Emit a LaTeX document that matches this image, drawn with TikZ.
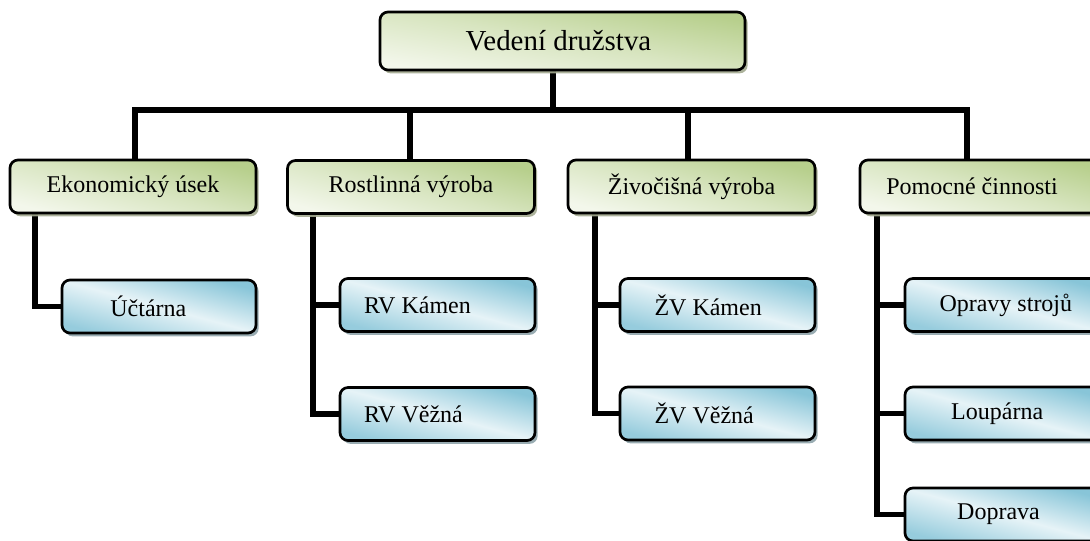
\documentclass[tikz,border=0pt]{standalone}
\usepackage{fontspec}
\setmainfont{Liberation Serif}
\usetikzlibrary{shadows,backgrounds}
\definecolor{gdark}{HTML}{B7CF8C}
\definecolor{glight}{HTML}{F3F7EB}
\definecolor{bdark}{HTML}{88C5D8}
\definecolor{blight}{HTML}{E6F3F7}
\definecolor{gshadow}{HTML}{A3AA90}
\definecolor{bshadow}{HTML}{8EA3AA}
\tikzset{
  boxbase/.style={draw=black, line width=2pt, rounded corners=6pt, inner sep=0pt,
    font=\fontsize{18}{22}\selectfont},
  gbox/.style={boxbase, top color=gdark, bottom color=glight, middle color=gdark!45!glight, shading angle=-15,
    drop shadow={shadow xshift=2pt, shadow yshift=-2.5pt, fill=gshadow, opacity=0.9},
    minimum width=247*0.75pt, minimum height=53*0.75pt},
  bbox/.style={boxbase, top color=bdark, bottom color=bdark!88!white, middle color=blight, shading angle=-15,
    drop shadow={shadow xshift=2pt, shadow yshift=-2.5pt, fill=bshadow, opacity=0.9},
    minimum width=195*0.75pt, minimum height=53*0.75pt},
  txt/.style={font=\fontsize{18}{22}\selectfont, inner sep=0pt},
  conn/.style={draw=black, line width=3.8pt, line join=miter, line cap=rect}
}
\begin{document}
\begin{tikzpicture}[x=0.75pt,y=-0.75pt]
\useasboundingbox (0,0) rectangle (1090,540);
\clip (0,0) rectangle (1090,540);

% top
\node[gbox, shading angle=-10, minimum width=365*0.75pt, minimum height=58*0.75pt,
  label={[txt, font=\fontsize{21.7}{26}\selectfont, xshift=-3pt]center:Vedení družstva}] (top) at (562.5,41) {};

% level 1
\node[gbox, minimum width=246*0.75pt, label={[txt]center:Ekonomický úsek}] (ekon) at (133,186.5) {};
\node[gbox, label={[txt]center:Rostlinná výroba}] (rost) at (411,187) {};
\node[gbox, label={[txt]center:Živočišná výroba}] (ziv) at (691.5,186.5) {};
\node[gbox, label={[txt, xshift=-8.6pt]center:Pomocné činnosti}] (pom) at (983.5,186.5) {};

% level 2
\node[bbox, minimum width=194*0.75pt, label={[txt, xshift=-8pt]center:Účtárna}] (uct) at (159,306.5) {};
\node[bbox, label={[txt, xshift=-15pt]center:RV Kámen}] (rvk) at (437.5,305) {};
\node[bbox, label={[txt, xshift=-18pt]center:RV Věžná}] (rvv) at (437.5,414) {};
\node[bbox, label={[txt, xshift=-7pt]center:ŽV Kámen}] (zvk) at (717.5,305) {};
\node[bbox, label={[txt, xshift=-10pt]center:ŽV Věžná}] (zvv) at (717.5,413.5) {};
\node[bbox, label={[txt, xshift=2.5pt]center:Opravy strojů}] (opr) at (1002.5,305) {};
\node[bbox, label={[txt, xshift=-4pt]center:Loupárna}] (lou) at (1002.5,413.5) {};
\node[bbox, label={[txt, xshift=-3pt]center:Doprava}] (dop) at (1002.5,514.5) {};

\begin{scope}[on background layer]
\coordinate (hub) at (553,110);
\coordinate (b1) at (135,110);
\coordinate (b2) at (410,110);
\coordinate (b3) at (688,110);
\coordinate (b4) at (967,110);
\draw[conn] (top.south -| hub) -- (hub);
\draw[conn] (ekon.north -| b1) |- (b4) -- (pom.north -| b4);
\draw[conn] (rost.north -| b2) -- (b2);
\draw[conn] (ziv.north -| b3) -- (b3);

\coordinate (c1) at (35,0);
\coordinate (c2) at (313,0);
\coordinate (c3) at (595,0);
\coordinate (c4) at (877,0);
\draw[conn] (ekon.south -| c1) |- (uct.west);
\draw[conn] (rost.south -| c2) |- (rvv.west);
\draw[conn] (rvk.west -| c2) -- (rvk.west);
\draw[conn] (ziv.south -| c3) |- (zvv.west);
\draw[conn] (zvk.west -| c3) -- (zvk.west);
\draw[conn] (pom.south -| c4) |- (dop.west);
\draw[conn] (opr.west -| c4) -- (opr.west);
\draw[conn] (lou.west -| c4) -- (lou.west);
\end{scope}
\end{tikzpicture}
\end{document}
